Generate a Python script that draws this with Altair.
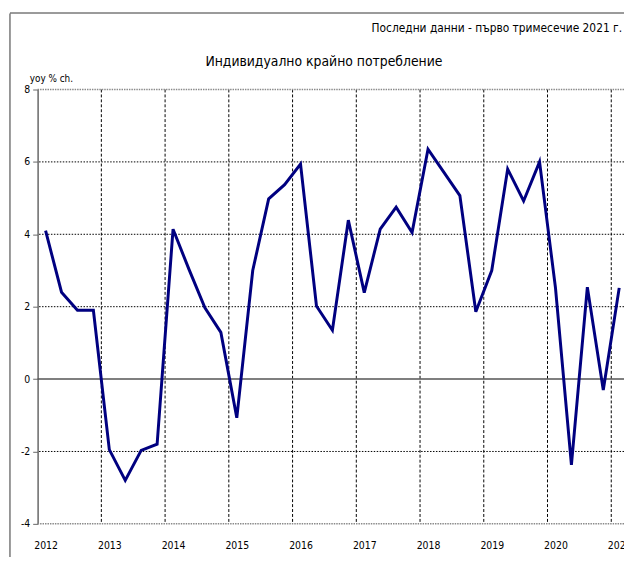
import altair as alt
import pandas as pd

# ---- data (yoy % change, quarterly) ----
periods = [
    "2012Q1", "2012Q2", "2012Q3", "2012Q4",
    "2013Q1", "2013Q2", "2013Q3", "2013Q4",
    "2014Q1", "2014Q2", "2014Q3", "2014Q4",
    "2015Q1", "2015Q2", "2015Q3", "2015Q4",
    "2016Q1", "2016Q2", "2016Q3", "2016Q4",
    "2017Q1", "2017Q2", "2017Q3", "2017Q4",
    "2018Q1", "2018Q2", "2018Q3", "2018Q4",
    "2019Q1", "2019Q2", "2019Q3", "2019Q4",
    "2020Q1", "2020Q2", "2020Q3", "2020Q4",
    "2021Q1",
]
values = [
    4.10, 2.40, 1.90, 1.90,
    -1.95, -2.80, -1.97, -1.80,
    4.14, 3.03, 1.97, 1.29,
    -1.07, 3.00, 4.98, 5.37,
    5.94, 2.02, 1.35, 4.39,
    2.39, 4.14, 4.75, 4.05,
    6.35, 5.71, 5.07, 1.86,
    3.00, 5.80, 4.92, 6.00,
    2.52, -2.37, 2.54, -0.30,
    2.52,
]
year_labels = [2012, 2013, 2014, 2015, 2016, 2017, 2018, 2019, 2020, 2021]
y_ticks = [-4, -2, 0, 2, 4, 6, 8]
title_text = "Индивидуално крайно потребление"
note_text = "Последни данни - първо тримесечие 2021 г."
unit_text = "yoy % ch."

FONT = "DejaVu Sans Condensed, Liberation Sans Narrow, Liberation Sans, sans-serif"

# position of each quarter: mid-quarter in fractional years
def qpos(p):
    y = int(p[:4]); q = int(p[5])
    return y + (q - 1) / 4 + 0.125

df = pd.DataFrame({"t": [qpos(p) for p in periods], "v": values})
vgrid = pd.DataFrame({"t": year_labels[1:]})
hgrid_dark = pd.DataFrame({"v": [6, 4, 2, -2]})
hgrid_light = pd.DataFrame({"v": [8, -4]})
zero = pd.DataFrame({"v": [0]})

W, H = 594, 440
xscale = alt.Scale(domain=[2012, 2021.2], nice=False, zero=False)
yscale = alt.Scale(domain=[-4, 8], nice=False, zero=False)

xaxis = alt.Axis(
    values=[y + 0.125 for y in year_labels], labelExpr="floor(datum.value)",
    grid=False, ticks=False, domain=False, labelPadding=17,
    labelFont=FONT, labelFontSize=10.5, labelColor="#000000", labelFlush=False,
)
yaxis = alt.Axis(
    values=y_ticks, labelExpr="toString(datum.value)", grid=False, ticks=True,
    tickSize=5, tickColor="#666666",
    domain=True, domainColor="#666666", domainWidth=1.5, labelPadding=3,
    labelFont=FONT, labelFontSize=10.5, labelColor="#000000",
)

X = alt.X("t:Q", scale=xscale, axis=xaxis, title=None)
Y = alt.Y("v:Q", scale=yscale, axis=yaxis, title=None)

vrules = alt.Chart(vgrid).mark_rule(color="#000000", strokeWidth=1, strokeDash=[3, 2]).encode(x=X)
hdark = alt.Chart(hgrid_dark).mark_rule(color="#000000", strokeWidth=1, strokeDash=[1.5, 1.5]).encode(y=Y)
hlight = alt.Chart(hgrid_light).mark_rule(color="#8a8a8a", strokeWidth=1.5, strokeDash=[1.5, 1]).encode(y=Y)
zrule = alt.Chart(zero).mark_rule(color="#555555", strokeWidth=1.5).encode(y=Y)

line = alt.Chart(df).mark_line(color="#000080", strokeWidth=3, strokeJoin="miter", clip=False).encode(x=X, y=Y)

frame_left = alt.Chart(zero).mark_rule(color="#333333", strokeWidth=1).encode(
    x=alt.value(-28), y=alt.value(-77), y2=alt.value(H + 40)
)
frame_top = alt.Chart(zero).mark_rule(color="#333333", strokeWidth=1).encode(
    x=alt.value(-28), x2=alt.value(W + 20), y=alt.value(-77.5)
)

title = alt.Chart(zero).mark_text(font=FONT, fontSize=14, color="#000000", align="center").encode(
    x=alt.value(290), y=alt.value(-28), text=alt.value(title_text)
)
note = alt.Chart(zero).mark_text(font=FONT, fontSize=12, color="#000000", align="right").encode(
    x=alt.value(W - 2), y=alt.value(-62), text=alt.value(note_text)
)
unit = alt.Chart(zero).mark_text(font=FONT, fontSize=10, color="#000000", align="left").encode(
    x=alt.value(-8), y=alt.value(-11), text=alt.value(unit_text)
)

chart = alt.layer(
    vrules, hdark, hlight, zrule, line, frame_left, frame_top, title, note, unit
).properties(
    width=W, height=H,
    autosize=alt.AutoSizeParams(type="none"),
    padding={"left": 30, "top": 79, "right": 0, "bottom": 30},
    background="#ffffff",
).configure_view(stroke=None)

chart.save("out.html", embed_options={"renderer": "svg", "actions": False})
